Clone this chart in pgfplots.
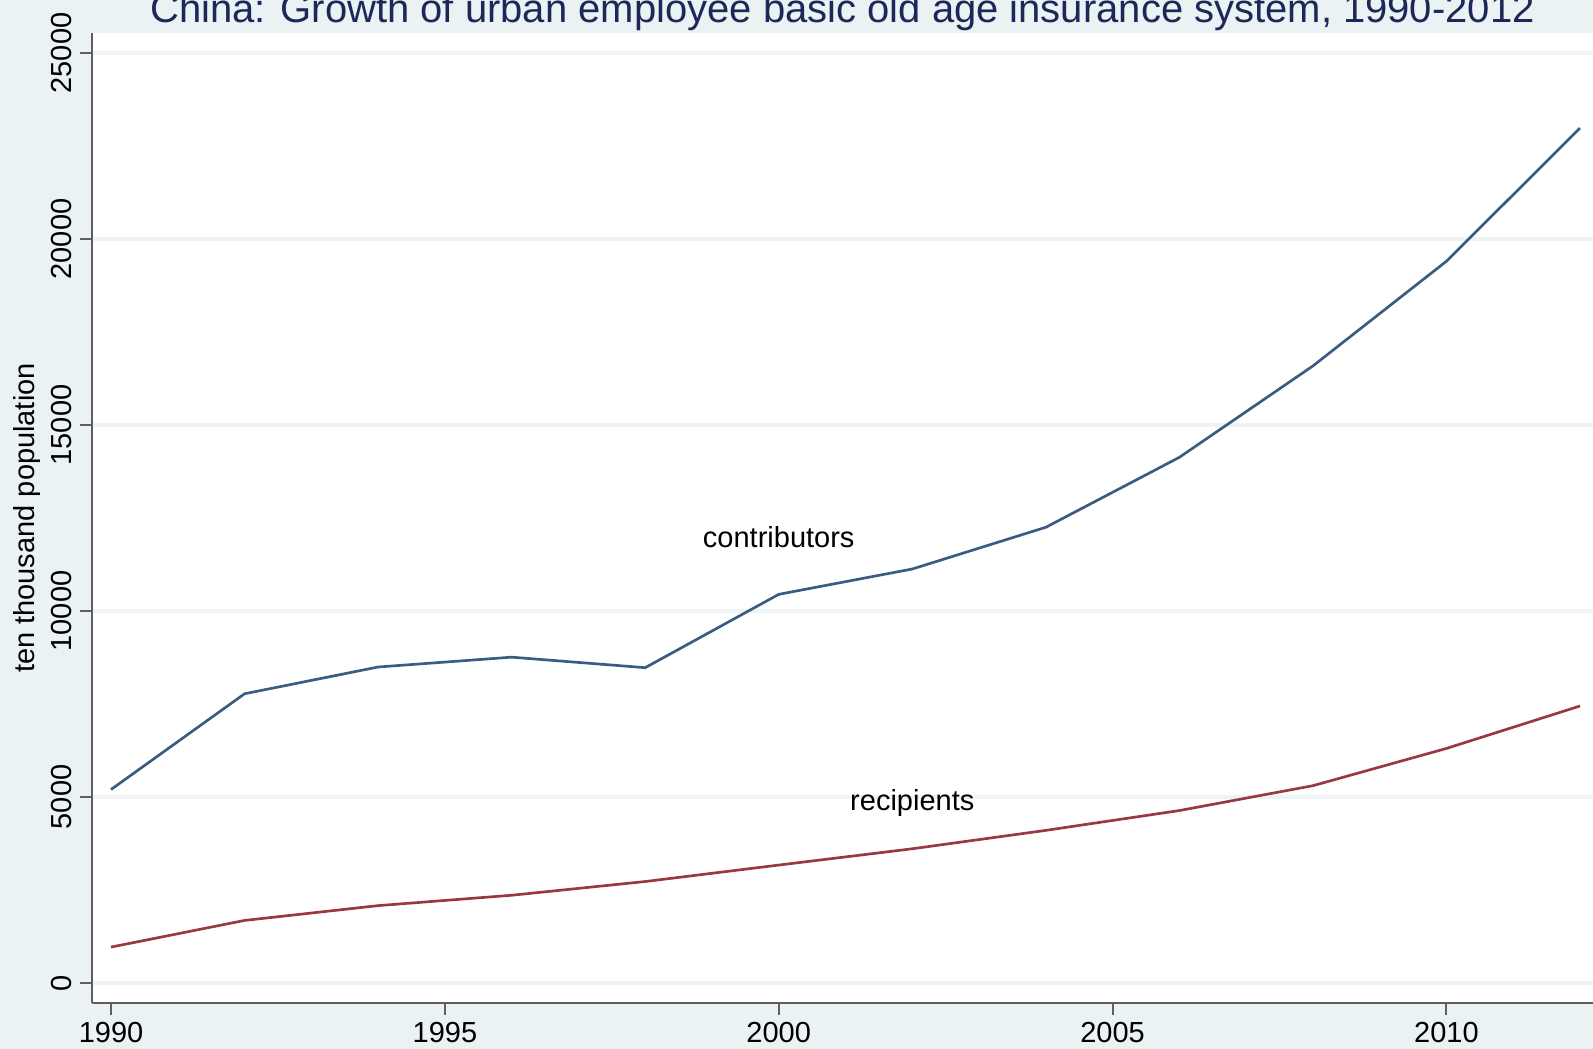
\documentclass[border=0pt]{standalone}
\usepackage{fontspec}
\setmainfont{Liberation Sans}
\usepackage{pgfplots}
\pgfplotsset{compat=1.18}
\definecolor{bgc}{RGB}{234,242,243}
\definecolor{gridc}{RGB}{238,244,245}
\definecolor{stnavy}{RGB}{58,92,130}
\definecolor{stmaroon}{RGB}{152,56,66}
\definecolor{titlec}{RGB}{28,40,88}
\definecolor{axc}{RGB}{95,95,95}
\begin{document}
\begin{tikzpicture}
\fill[bgc] (-27.6pt,-13.8pt) rectangle (450.3pt,300.9pt);
\begin{axis}[
  at={(0,0)}, anchor=south west,
  width=450.3pt, height=291pt, scale only axis,
  xmin=1989.715, xmax=2012.195, ymin=-538, ymax=25538,
  axis x line*=bottom, axis y line*=left,
  axis line style={axc, line width=0.6pt},
  axis background/.style={fill=white},
  xtick={1990,1995,2000,2005,2010},
  ytick={0,5000,10000,15000,20000,25000},
  scaled ticks=false,
  tick align=outside, major tick length=3.6pt,
  tick style={axc, line width=0.6pt},
  ymajorgrids, major grid style={gridc, line width=1.2pt},
  /pgf/number format/.cd, 1000 sep={}, assume math mode=true, /pgfplots/.cd,
  tick label style={font=\fontsize{8.7}{10}\selectfont, text=black},
  xticklabel style={anchor=north, inner sep=0pt, yshift=-2.1pt},
  yticklabel style={xshift=-2.2pt, rotate=90, anchor=south, inner sep=0pt},
  clip=false,
]
\addplot[stnavy, line width=0.8pt] coordinates {
(1990,5200.7) (1992,7774.7) (1994,8494.0) (1996,8758.4) (1998,8475.8)
(2000,10447.5) (2002,11128.8) (2004,12250.3) (2006,14130.9) (2008,16587.5)
(2010,19402.3) (2012,22981.1)};
\addplot[stmaroon, line width=0.8pt] coordinates {
(1990,965.3) (1992,1681.5) (1994,2079.4) (1996,2358.3) (1998,2727.3)
(2000,3169.9) (2002,3607.8) (2004,4102.6) (2006,4635.4) (2008,5303.6)
(2010,6305.0) (2012,7445.7)};
\node[anchor=base, font=\fontsize{8.7}{10}\selectfont, inner sep=0pt] at (axis cs:2000,11720) {contributors};
\node[anchor=base, font=\fontsize{8.7}{10}\selectfont, inner sep=0pt] at (axis cs:2002,4632) {recipients};
\node[rotate=90, font=\fontsize{8.7}{10}\selectfont, inner sep=0pt] at ([xshift=-19.5pt]rel axis cs:0,0.5) {ten thousand population};
\node[anchor=base, font=\fontsize{12}{14}\selectfont, text=titlec, inner sep=0pt] at ([yshift=3.1pt]rel axis cs:0.5,1) {China: Growth of urban employee basic old age insurance system, 1990-2012};
\end{axis}
\pgfresetboundingbox
\path[use as bounding box] (-27.6pt,-13.8pt) rectangle (450.3pt,300.9pt);
\end{tikzpicture}
\end{document}
